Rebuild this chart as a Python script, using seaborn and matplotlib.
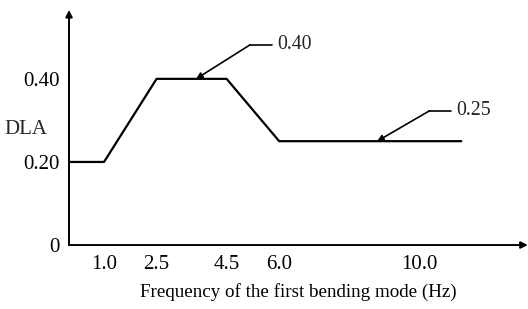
import seaborn as sns
import matplotlib.pyplot as plt
import pandas as pd

# --- data ---
freq = [0.0, 1.0, 2.5, 4.5, 6.0, 11.2]
dla = [0.20, 0.20, 0.40, 0.40, 0.25, 0.25]
xticks = [1.0, 2.5, 4.5, 6.0, 10.0]
yticks = [0, 0.20, 0.40]
callouts = [("0.40", 3.63, 0.40, 5.17, 0.482, 5.95),
            ("0.25", 8.80, 0.25, 10.29, 0.323, 11.05)]

sns.set_style("white")
plt.rcParams['font.family'] = ['Liberation Serif', 'DejaVu Serif']

df = pd.DataFrame({"freq": freq, "dla": dla})

fig = plt.figure(figsize=(5.28, 3.09), dpi=100)
ax = fig.add_axes([0.1307, 0.207, 0.869, 0.761])

sns.lineplot(data=df, x="freq", y="dla", sort=False, estimator=None,
             color="black", linewidth=1.6, ax=ax)

ax.set_xlim(0, 13.1)
ax.set_ylim(0, 0.566)
for s in ax.spines.values():
    s.set_visible(False)

# axes drawn as arrows
ax.annotate("", xy=(1.0, 0), xytext=(0, 0), xycoords="axes fraction",
            arrowprops=dict(arrowstyle="-|>", color="black", lw=1.4,
                            mutation_scale=10, shrinkA=0, shrinkB=0))
ax.annotate("", xy=(0, 1.0), xytext=(0, 0), xycoords="axes fraction",
            arrowprops=dict(arrowstyle="-|>", color="black", lw=1.4,
                            mutation_scale=10, shrinkA=0, shrinkB=0))

ax.set_xticks(xticks)
ax.set_xticklabels([f"{v:.1f}" for v in xticks])
ax.set_yticks(yticks)
ax.set_yticklabels(["0", "0.20", "0.40"])
ax.tick_params(axis="both", direction="out", length=4, width=1.2,
               color="black", labelsize=15, labelcolor="black")
ax.tick_params(axis="x", pad=3)
ax.tick_params(axis="y", pad=3)
ax.yaxis.get_major_ticks()[0].tick1line.set_visible(False)

ax.set_xlabel("Frequency of the first bending mode (Hz)", fontsize=13.7,
              color="black", labelpad=7)
ax.set_ylabel("")
ax.text(-0.048, 0.277, "DLA", fontsize=15, ha="right", va="center",
        transform=ax.get_yaxis_transform())

# callouts with leader lines
for label, hx, hy, ex, ey, tx in callouts:
    ax.plot([ex, tx - 0.15], [ey, ey], color="black", lw=1.2)
    ax.annotate("", xy=(hx, hy), xytext=(ex, ey),
                arrowprops=dict(arrowstyle="-|>", color="black", lw=1.2,
                                mutation_scale=9, shrinkA=0, shrinkB=0))
    ax.text(tx, ey, label, fontsize=14.3, ha="left", va="center")

fig.savefig("out.png", dpi=100)
